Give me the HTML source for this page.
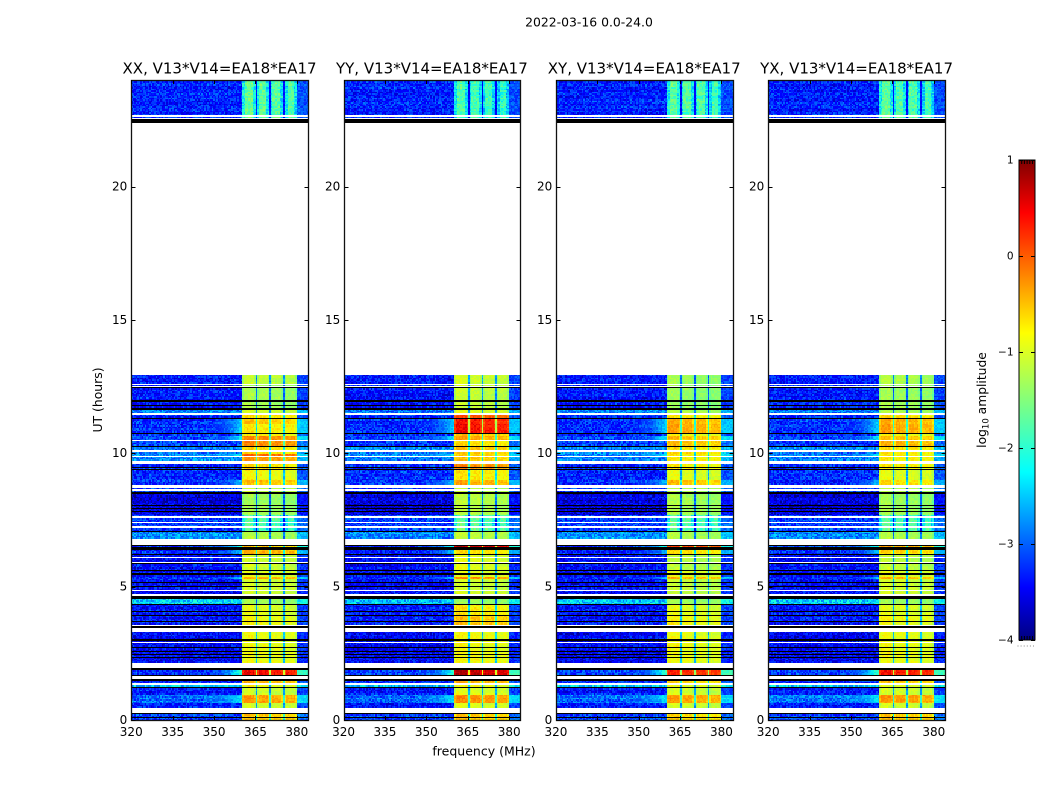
<!DOCTYPE html>
<html lang="en">
<head>
<meta charset="utf-8">
<title>2022-03-16 0.0-24.0</title>
<style>
html,body{margin:0;padding:0;background:#fff;}
svg{display:block;}
text{font-family:"DejaVu Sans","Liberation Sans",sans-serif;fill:#000;}
</style>
</head>
<body>
<svg id="chart" xmlns="http://www.w3.org/2000/svg" width="1050" height="800" viewBox="0 0 1050 800">
  <defs>
    <linearGradient id="jetGrad" x1="0" y1="1" x2="0" y2="0">
      <stop offset="0" stop-color="#000080"/>
      <stop offset="0.11" stop-color="#0000ff"/>
      <stop offset="0.35" stop-color="#00ffff"/>
      <stop offset="0.64" stop-color="#ffff00"/>
      <stop offset="0.89" stop-color="#ff0000"/>
      <stop offset="1" stop-color="#800000"/>
    </linearGradient>
  </defs>
  <text x="589" y="26.5" font-size="12.4" text-anchor="middle">2022-03-16 0.0-24.0</text>
  <text x="0" y="0" font-size="12.4" text-anchor="middle" transform="translate(102,400) rotate(-90)">UT (hours)</text>
  <text x="484" y="755.5" font-size="12.5" text-anchor="middle">frequency (MHz)</text>
  <g id="panels"></g>
  <g id="colorbar"></g>
  <text x="0" y="0" font-size="12.3" text-anchor="middle" transform="translate(986,400) rotate(-90)">log<tspan font-size="8.5" dy="2.5">10</tspan><tspan dy="-2.5"> amplitude</tspan></text>
</svg>
<script>
// ---- chart data ----
const panelTitles = ["XX, V13*V14=EA18*EA17","YY, V13*V14=EA18*EA17","XY, V13*V14=EA18*EA17","YX, V13*V14=EA18*EA17"];
const xTickLabels = [320,335,350,365,380];
const yTickLabels = [0,5,10,15,20];
const colorbarTicks = [1,0,-1,-2,-3,-4];

// Time blocks (UT hours, top to bottom): 40 edges bound 39 blocks
const blockEdges = [24,22.4,12.94,12.6,11.66,11.44,11.29,11.1,10.78,10.65,10.5,10.22,9.99,9.9,9.6,9.38,9,8.81,8.48,7.67,7.09,6.79,6.45,6.22,5.62,5.38,5.29,4.65,4.34,3.9,3.3,2.14,1.86,1.69,1.35,1.19,0.95,0.62,0.26,0];
// log10 amplitude outside the observing band
const backgroundLevel = [-3.25,null,-3.3,-3.3,-2.75,-3.2,-3.2,-3.2,-3.2,-3.1,-3.1,-2.75,-2.75,-2.75,-3.2,-3.2,-3.2,-3.1,-3.6,-3.1,-2.7,-3.1,-3.2,-3.4,-3.4,-3.2,-3.4,-2.4,-3.3,-3.3,-3.45,null,-3.1,-3.2,-2.4,-3.3,-2.85,-3.3,-3.1];
// log10 amplitude inside the band, one series per polarisation
const bandXX = [-1.7,null,-1.1,-1.25,-1,-0.6,-0.5,-0.7,-0.8,-0.2,-0.2,-0.6,0,-0.3,-0.6,-0.8,-0.5,-1.1,-1.3,-1.75,-1.2,-0.5,-0.4,-1,-0.9,-0.4,-1,-1.3,-0.9,-0.8,-0.85,null,0.5,-0.4,-0.8,-1,-0.3,-1,-0.5];
const bandYY = [-1.85,null,-1,-1.05,-0.9,0.1,0.4,0.45,-0.5,-0.35,-0.6,-0.5,-0.6,-0.5,-0.2,-0.7,-0.4,-1.1,-1.15,-1.7,-1.1,0.7,-0.6,-0.9,-0.9,-0.2,-1,-1.3,-0.7,-0.5,-0.8,null,0.7,-0.4,-0.8,-0.9,-0.2,-0.9,-0.5];
const bandXY = [-1.75,null,-1.3,-1.35,-1.2,-0.7,-0.4,-0.35,-0.8,-0.5,-0.5,-0.65,-0.7,-0.7,-0.7,-0.9,-0.5,-1.2,-1.25,-1.75,-1.2,0.2,-0.6,-1.15,-0.9,-0.4,-1.1,-1.3,-0.9,-0.8,-0.85,null,0.3,-0.6,-0.9,-1,-0.3,-1,-0.6];
const bandYX = [-1.75,null,-1.2,-1.3,-1.2,-0.6,-0.4,-0.35,-0.8,-0.5,-0.4,-0.65,-0.7,-0.7,-0.7,-0.9,-0.6,-1.2,-1.3,-1.75,-1.2,-0.4,-0.6,-1.1,-0.9,-0.4,-1,-1.3,-0.9,-0.8,-0.85,null,0.4,-0.5,-0.9,-1,-0.3,-1,-0.5];
// Level of the skirt just below the band edge, where one is visible
const skirtLevel = [null,null,null,null,null,null,-2.3,-2.3,null,-2.2,null,null,-2.2,null,null,null,-2.4,null,null,null,null,-2,-2.4,null,null,-2.3,null,null,null,null,null,null,-1.8,null,null,null,-2.2,null,null];
// Spectral-window edges (MHz) and the relative level of each window
const subbandLow = [360.2,365.5,370.5,375.5];
const subbandHigh = [364.9,369.9,374.9,380];
const subbandOffset = [0.06,0,-0.04,-0.08];
// Masked integrations, [start UT, end UT]
const whiteGaps = [[22.69,22.63],[22.59,22.54],[22.4,12.94],[12.61,12.57],[12.54,12.49],[11.51,11.44],[10.5,10.46],[10.11,10.05],[9.9,9.86],[9.71,9.6],[8.8,8.7],[8.65,8.6],[7.66,7.58],[7.41,7.38],[7.26,7.21],[6.79,6.57],[6.11,6.08],[5.93,5.89],[4.89,4.85],[4.71,4.65],[3.56,3.51],[3.45,3.3],[2.94,2.9],[2.14,1.98],[1.65,1.55],[1.39,1.31],[0.46,0.27]];
const blackGaps = [[22.54,22.4],[12.49,12.44],[11.99,11.94],[11.81,11.78],[11.7,11.64],[11.33,11.28],[10.77,10.73],[10.26,10.23],[9.49,9.46],[9.42,9.38],[8.54,8.49],[8.06,8.03],[7.96,7.92],[7.85,7.8],[7.1,7.06],[6.57,6.53],[6.47,6.38],[6.24,6.19],[5.89,5.84],[5.63,5.59],[5.5,5.45],[5.18,5.12],[5.03,4.99],[4.64,4.55],[4.34,4.3],[4.1,4.06],[3.94,3.9],[3.71,3.68],[3.51,3.45],[3.03,2.97],[2.74,2.7],[2.59,2.55],[2.49,2.46],[2.38,2.34],[1.96,1.86],[1.7,1.65],[1.54,1.46],[1.24,1.19],[0.26,0.21],[0.12,0.06]];
// Hand-typed tile of amplitude offsets: a cosmetic stand-in for the noise grain,
// not a reading of individual pixels in the reference.
const grainTile = [0.2,-0.3,0.05,0.35,-0.15,-0.4,0.25,0.1,-0.25,0.4,-0.05,-0.35,0.3,0.15,-0.2,-0.1,0.45,-0.3,0.0,0.2,-0.45,0.1,0.3,-0.2,0.05,-0.35,0.4,-0.1,0.15,-0.25,0.35,-0.4,0.2,0.0,-0.15,0.3,-0.3,0.1,0.25,-0.05,-0.4,0.5,-0.2,0.15,-0.1,0.3,-0.35,0.05,0.2,-0.25,0.4,-0.15,-0.05,0.25,-0.4,0.1,0.35,-0.3,0.0,0.15,-0.2,0.45,-0.1,-0.35,0.2,0.05,-0.25,0.3,-0.45,0.1,0.25,-0.15,0.35,-0.05,-0.3,0.15,0.0,0.4,-0.2,-0.4,0.3,0.05,-0.1,0.2,-0.3,0.35,-0.25,0.1,0.45,-0.35,-0.05,0.25,-0.15,0.0,0.3,-0.4,0.15];
// ---- end chart data ----

const SVGNS = "http://www.w3.org/2000/svg";
const bandSeries = [bandXX,bandYY,bandXY,bandYX];
const panelKeys = ["xx","yy","xy","yx"];
const FREQ_MIN = 320, FREQ_MAX = 384, UT_MAX = 24;
const CHANNEL_MHZ = 0.55, SCAN_HOURS = 0.055, COLOR_LEVELS = 128;
const PLOT_TOP = 80, PLOT_BOTTOM = 720, PANEL_W = 176.6, PANEL_STEP = 212.33, PANEL_LEFT = 131.25;

function yScale(ut){ return PLOT_BOTTOM - (ut/UT_MAX)*(PLOT_BOTTOM-PLOT_TOP); }
function xScaleFor(i){
  const left = PANEL_LEFT + PANEL_STEP*i;
  return f => left + (f-FREQ_MIN)/(FREQ_MAX-FREQ_MIN)*PANEL_W;
}
function jetNorm(n){
  const ramp = (x,pts)=>{
    for(let k=1;k<pts.length;k++){
      if(x<=pts[k][0]){
        const a=pts[k-1],b=pts[k];
        return a[1]+(b[1]-a[1])*(x-a[0])/(b[0]-a[0]);
      }
    }
    return pts[pts.length-1][1];
  };
  const r = ramp(n,[[0,0],[0.35,0],[0.66,1],[0.89,1],[1,0.5]]);
  const g = ramp(n,[[0,0],[0.125,0],[0.375,1],[0.64,1],[0.91,0],[1,0]]);
  const b = ramp(n,[[0,0.5],[0.11,1],[0.34,1],[0.65,0],[1,0]]);
  return "rgb("+Math.round(r*255)+","+Math.round(g*255)+","+Math.round(b*255)+")";
}
function rect(parent,x,y,w,h,fill){
  const el = document.createElementNS(SVGNS,"rect");
  el.setAttribute("x",x);
  el.setAttribute("y",y);
  el.setAttribute("width",w);
  el.setAttribute("height",h);
  el.setAttribute("fill",fill);
  parent.appendChild(el);
  return el;
}
function line(parent,x1,y1,x2,y2){
  const el = document.createElementNS(SVGNS,"line");
  el.setAttribute("x1",x1); el.setAttribute("y1",y1);
  el.setAttribute("x2",x2); el.setAttribute("y2",y2);
  el.setAttribute("stroke","#000"); el.setAttribute("stroke-width","1");
  parent.appendChild(el);
  return el;
}
function label(parent,x,y,str,size,anchor){
  const el = document.createElementNS(SVGNS,"text");
  el.setAttribute("x",x); el.setAttribute("y",y);
  el.setAttribute("font-size",size); el.setAttribute("text-anchor",anchor);
  el.textContent = str;
  parent.appendChild(el);
  return el;
}

// Amplitude of one cell at frequency f within block b of a polarisation series
function cellLevel(series,b,f,grain){
  const bg = backgroundLevel[b], sk = skirtLevel[b], level = series[b];
  if(f>=subbandLow[0] && f<subbandHigh[3]){
    for(let s=0;s<subbandLow.length;s++){
      if(f>=subbandLow[s] && f<subbandHigh[s]){
        const d = Math.min(f-subbandLow[s],subbandHigh[s]-f);
        const weak = level < -1.5;
        let v = level + subbandOffset[s] + grain*(weak?0.65:0.3);
        if(d < (weak?0.9:0.55)){ v -= weak?0.5:0.2; }
        return v;
      }
    }
    return level - 1.6 + grain*0.4;
  }
  if(f>=subbandHigh[3]){
    const right = bg + 0.25 + grain*0.5;
    return sk!==null ? Math.max(right, sk - 0.1 + grain*0.3) : right;
  }
  let v = bg + grain*0.85;
  if(sk!==null && f>=348){
    const w = (f-348)/12.3;
    v = Math.max(v, bg + (sk-bg)*w*w + grain*0.4);
  }
  return v;
}

const panelsRoot = document.getElementById("panels");
panelTitles.forEach((title,p)=>{
  const x = xScaleFor(p);
  const series = bandSeries[p];
  const g = document.createElementNS(SVGNS,"g");
  
  
  panelsRoot.appendChild(g);

  const heat = document.createElementNS(SVGNS,"g");
  
  
  heat.setAttribute("shape-rendering","crispEdges");
  g.appendChild(heat);

  const buckets = {};
  let r = 0;
  backgroundLevel.forEach((bg,b)=>{
    if(bg===null){ return; }
    const t0 = blockEdges[b], t1 = blockEdges[b+1];
    const steps = Math.max(1,Math.round((t0-t1)/SCAN_HOURS));
    const dt = (t0-t1)/steps;
    for(let s=0;s<steps;s++){
      const y0 = Math.round(yScale(t0-dt*s));
      const y1 = Math.round(yScale(t0-dt*(s+1)));
      r++;
      if(y1<=y0){ continue; }
      const rowShift = grainTile[(r*r+p*5)%grainTile.length]*0.3;
      const cols = Math.ceil((FREQ_MAX-FREQ_MIN)/CHANNEL_MHZ);
      for(let c=0;c<cols;c++){
        const f0 = FREQ_MIN + c*CHANNEL_MHZ;
        const f1 = Math.min(FREQ_MAX,f0+CHANNEL_MHZ);
        const x0 = Math.round(x(f0)), x1 = Math.round(x(f1));
        if(x1<=x0){ continue; }
        const grain = grainTile[(r*r*3 + c*c*5 + r*c + p*13)%grainTile.length] + rowShift;
        const v = cellLevel(series,b,(f0+f1)/2,grain);
        const n = Math.max(0,Math.min(1,(v+4)/5));
        const key = Math.round(n*(COLOR_LEVELS-1));
        (buckets[key] = buckets[key] || []).push("M"+x0+" "+y0+"h"+(x1-x0)+"v"+(y1-y0)+"h"+(x0-x1)+"z");
      }
    }
  });
  Object.keys(buckets).forEach(key=>{
    const path = document.createElementNS(SVGNS,"path");
    path.setAttribute("d",buckets[key].join(""));
    path.setAttribute("fill",jetNorm(key/(COLOR_LEVELS-1)));
    
    
    heat.appendChild(path);
  });

  const leftPx = Math.round(x(FREQ_MIN)), rightPx = Math.round(x(FREQ_MAX));
  function gapRect(gap,fill){
    const y0 = Math.round(yScale(gap[0]));
    const y1 = Math.max(y0+1,Math.round(yScale(gap[1])));
    return rect(heat,leftPx,y0,rightPx-leftPx,y1-y0,fill);
  }
  whiteGaps.forEach(gap=>{
    const m = gapRect(gap,"#fff");
    
    
  });
  blackGaps.forEach(gap=>{
    const m = gapRect(gap,"#000");
    
    
  });

  const left = leftPx+0.5, right = rightPx+0.5;
  const frame = document.createElementNS(SVGNS,"rect");
  frame.setAttribute("x",left);
  frame.setAttribute("y",PLOT_TOP+0.5);
  frame.setAttribute("width",right-left);
  frame.setAttribute("height",PLOT_BOTTOM-PLOT_TOP);
  frame.setAttribute("fill","none");
  frame.setAttribute("stroke","#111");
  frame.setAttribute("stroke-width","1.3");
  
  
  g.appendChild(frame);

  xTickLabels.forEach(f=>{
    const px = Math.round(x(f))+0.5;
    const t1 = line(g,px,PLOT_BOTTOM,px,PLOT_BOTTOM-4);
    
    
    const t2 = line(g,px,PLOT_TOP,px,PLOT_TOP+4);
    
    
    const l = label(g,x(f),736,String(f),12,"middle");
    
    
  });
  yTickLabels.forEach(u=>{
    const py = Math.round(yScale(u))+0.5;
    const t1 = line(g,left,py,left+4,py);
    
    
    const t2 = line(g,right,py,right-4,py);
    
    
    const l = label(g,left-4.2,yScale(u)+3.8,String(u),12,"end");
    
    
  });
  const t = label(g,x(FREQ_MIN)+PANEL_W/2,73.5,title,15,"middle");
  
  
});

// Colorbar
const cb = document.getElementById("colorbar");
const CB_LEFT = 1019, CB_RIGHT = 1035, CB_TOP = 160, CB_BOTTOM = 640;
function cbY(v){ return CB_BOTTOM - (v+4)/5*(CB_BOTTOM-CB_TOP); }
const cbBar = rect(cb,CB_LEFT,CB_TOP,CB_RIGHT-CB_LEFT,CB_BOTTOM-CB_TOP,"url(#jetGrad)");


cbBar.setAttribute("stroke","#000");
cbBar.setAttribute("stroke-width","1");
colorbarTicks.forEach(v=>{
  const py = Math.round(cbY(v))+0.5;
  const a = line(cb,CB_LEFT,py,CB_LEFT+4,py);
  
  
  const b = line(cb,CB_RIGHT,py,CB_RIGHT-4,py);
  
  
  const txt = v<0 ? "\u2212"+Math.abs(v) : String(v);
  const l = label(cb,1013.5,cbY(v)+3.5,txt,10.5,"end");
  
  
});
for(let i=1;i<6;i++){
  const px = CB_LEFT + i*2.7;
  const a = line(cb,px,CB_TOP,px,CB_TOP+4);
  
  
  const b = line(cb,px,CB_BOTTOM,px,CB_BOTTOM-4);
  
  
}
for(let i=0;i<6;i++){
  const d = rect(cb,1017.5+i*3.1,645.5,1,1,"#888");
  
  
}
</script>
</body>
</html>
